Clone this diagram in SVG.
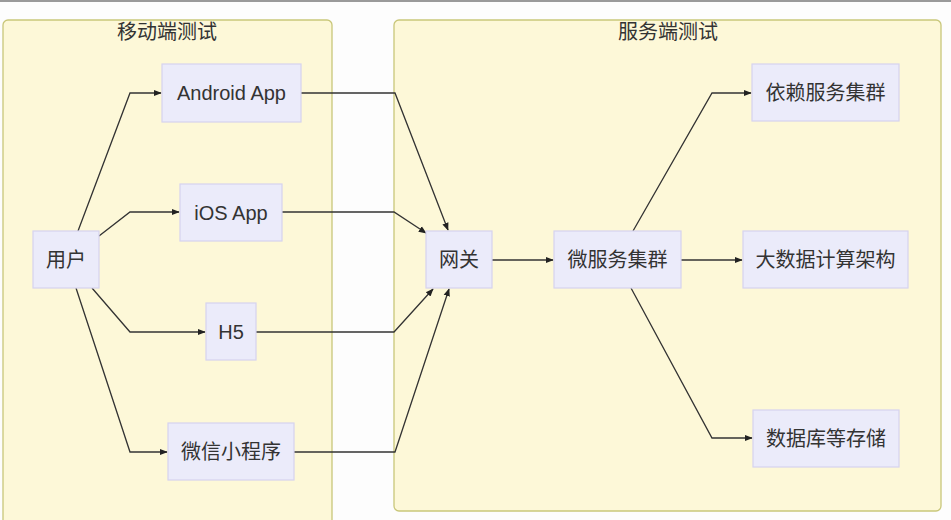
<svg xmlns="http://www.w3.org/2000/svg" width="951" height="520" viewBox="0 0 951 520">
<defs>
<marker id="arr" viewBox="0 0 10 10" refX="9" refY="5" markerWidth="8" markerHeight="8" markerUnits="userSpaceOnUse" orient="auto">
<path d="M0,1 L10,5 L0,9 z" fill="#222"/>
</marker>
</defs>
<style>
.cluster{fill:#fdf8d8;stroke:#c9c77a;stroke-width:1.3}
.node rect{fill:#ebebfa;stroke:#d6d3ee;stroke-width:1.2}
text{font-family:"Liberation Sans","Noto Sans CJK SC",sans-serif;font-size:20px;fill:#333;text-anchor:middle;dominant-baseline:central}
.edge{fill:none;stroke:#333;stroke-width:1.3;marker-end:url(#arr)}
</style>
<rect x="0" y="0" width="951" height="520" fill="#fdfdfd"/>
<rect x="0" y="0" width="951" height="2" fill="#9a9a9a"/>
<g id="cluster-mobile">
<rect class="cluster" x="3" y="20" width="329" height="510" rx="5"/>
<text x="167" y="32">移动端测试</text>
</g>
<g id="cluster-server">
<rect class="cluster" x="394" y="20" width="547" height="491" rx="5"/>
<text x="668" y="32">服务端测试</text>
</g>
<g id="edges">
<polyline class="edge" points="78,231 130,93 161,93"/>
<polyline class="edge" points="99,236 130,212 179,212"/>
<polyline class="edge" points="92,288 130,332 205,332"/>
<polyline class="edge" points="76,288 130,452 167,452"/>
<polyline class="edge" points="301,93 395,93 448,230"/>
<polyline class="edge" points="282,212 394,212 426,233"/>
<polyline class="edge" points="256,332 394,332 433,289"/>
<polyline class="edge" points="294,452 395,452 449,289"/>
<polyline class="edge" points="492,260 553,260"/>
<polyline class="edge" points="633,231 712,93 751,93"/>
<polyline class="edge" points="681,260 742,260"/>
<polyline class="edge" points="631,288 712,438 752,438"/>
</g>
<g id="node-user" class="node"><rect x="33" y="231" width="66" height="57"/><text x="66" y="259.5">用户</text></g>
<g id="node-android" class="node"><rect x="162" y="64" width="139" height="58"/><text x="231.5" y="93">Android App</text></g>
<g id="node-ios" class="node"><rect x="180" y="184" width="102" height="57"/><text x="231" y="212.5">iOS App</text></g>
<g id="node-h5" class="node"><rect x="206" y="303" width="50" height="57"/><text x="231" y="331.5">H5</text></g>
<g id="node-wechat" class="node"><rect x="168" y="423" width="126" height="57"/><text x="231" y="451.5">微信小程序</text></g>
<g id="node-gateway" class="node"><rect x="426" y="231" width="66" height="57"/><text x="459" y="259.5">网关</text></g>
<g id="node-micro" class="node"><rect x="554" y="231" width="127" height="57"/><text x="617.5" y="259.5">微服务集群</text></g>
<g id="node-dep" class="node"><rect x="752" y="64" width="147" height="57"/><text x="825.5" y="92.5">依赖服务集群</text></g>
<g id="node-bigdata" class="node"><rect x="743" y="231" width="165" height="57"/><text x="825.5" y="259.5">大数据计算架构</text></g>
<g id="node-db" class="node"><rect x="753" y="410" width="146" height="57"/><text x="826" y="438.5">数据库等存储</text></g>
</svg>
